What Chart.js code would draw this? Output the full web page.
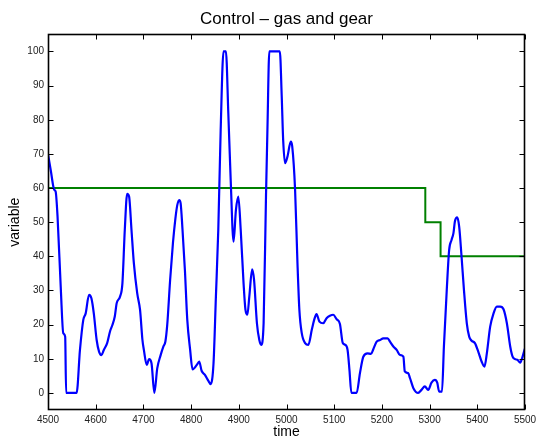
<!DOCTYPE html>
<html>
<head>
<meta charset="utf-8">
<script src="https://cdn.jsdelivr.net/npm/chart.js@4/dist/chart.umd.min.js"></script>
<style>
html,body{margin:0;padding:0;background:#fff;}
#wrap{width:536px;height:438px;}
</style>
</head>
<body>
<div id="wrap"><canvas id="c" width="536" height="438"></canvas></div>
<script>
// ---- data ----
const gasTime = [4500,4506,4513,4516,4520,4527,4532,4536,4538,4560,4567,4574,4579,4586,4591,4596,4602,4607,4612,4617,4624,4630,4635,4640,4644,4651,4656,4661,4666,4670,4675,4680,4687,4693,4698,4701,4707,4712,4717,4723,4729,4736,4742,4746,4750,4756,4762,4767,4771,4775,4778,4782,4787,4792,4798,4803,4812,4817,4822,4829,4836,4841,4847,4852,4857,4862,4868,4873,4878,4883,4889,4894,4899,4904,4910,4914,4918,4922,4928,4932,4938,4943,4947,4952,4957,4960,4964,4986,4990,4993,4997,5002,5009,5012,5018,5023,5027,5032,5039,5046,5053,5058,5063,5069,5077,5084,5091,5098,5105,5112,5118,5123,5128,5132,5136,5147,5154,5161,5170,5177,5182,5189,5196,5203,5212,5217,5224,5231,5238,5245,5248,5255,5259,5266,5276,5283,5290,5297,5304,5311,5316,5320,5326,5330,5336,5341,5346,5350,5353,5358,5362,5367,5372,5378,5383,5388,5395,5402,5409,5415,5420,5427,5434,5441,5448,5455,5462,5469,5474,5479,5484,5490,5494,5499,5500];
const gasValue = [70,65,59.5,59,51.7,30,17.5,16.5,0,0,12.6,21.4,23.3,28.7,27.7,23.3,15.5,12.1,11.1,12.6,14.6,18,19.9,22.4,26.3,28.2,32.1,47.8,58.3,57.5,47.8,38,29.2,24.3,15.5,12.6,8.2,9.9,8.7,0,7.2,11,13.6,15,20,33,44,51,55,56.5,55.6,47.8,36,21.4,12.6,6.9,8.2,9.2,6.5,5.3,3.6,2.6,8.7,28.2,47.8,77,100,100,82,62.4,44.3,53.6,57.5,47.8,32.1,24.3,22.9,28.2,36.2,33.1,20.4,15.5,14.1,20.4,57.5,77,100,100,86.8,74.1,67.3,69.2,73.6,72.2,59.5,38,24.3,17.5,14.6,14.1,18.5,21.4,23.1,20.9,20.4,21.9,22.6,22.9,21.6,20.2,14.6,14.1,12.6,6.7,0,0,5.8,10.6,11.6,11.4,12.8,15,15.5,16,16,15,13.6,12.6,11.1,10.6,6.3,5.8,4.3,1.4,0,0.9,1.9,0.9,3,3.8,3,0.4,0.4,13.6,30.2,41.9,44.8,46.8,50.2,51.4,48.7,39.9,30.2,20.4,16.5,15.3,14.6,12.1,9.2,7.7,11.6,19.4,23.3,25.3,25.3,24.5,20.4,13.6,10.6,9.9,9.7,8.9,10.2,12.6,13];
const gearTime = [4500,5291,5291,5323,5323,5500];
const gearValue = [60,60,50,50,40,40];
const xTicks = [4500,4600,4700,4800,4900,5000,5100,5200,5300,5400,5500];
const yTicks = [0,10,20,30,40,50,60,70,80,90,100];
const titleText = 'Control \u2013 gas and gear';
const xLabel = 'time';
const yLabel = 'variable';

const FONT = "'Liberation Sans', Arial, Helvetica, sans-serif";

const frameTicks = {
  id: 'frameTicks',
  afterDraw(chart) {
    const {ctx, chartArea: a, scales: {x, y}} = chart;
    ctx.save();
    ctx.strokeStyle = '#000';
    ctx.lineWidth = 1;
    ctx.beginPath();
    const L = Math.round(a.left) + 0.5, R = Math.round(a.right) - 0.5;
    const T = Math.round(a.top) + 0.5, B = Math.round(a.bottom) - 0.5;
    const tl = 5;
    xTicks.forEach(v => {
      const px = Math.round(x.getPixelForValue(v)) + 0.5;
      ctx.moveTo(px, B); ctx.lineTo(px, B - tl);
      ctx.moveTo(px, T); ctx.lineTo(px, T + tl);
    });
    yTicks.forEach(v => {
      const py = Math.round(y.getPixelForValue(v)) + 0.5;
      ctx.moveTo(L, py); ctx.lineTo(L + tl, py);
      ctx.moveTo(R, py); ctx.lineTo(R - tl, py);
    });
    ctx.stroke();
    ctx.lineWidth = 1.6;
    ctx.strokeRect(L, T, R - L, B - T);
    ctx.restore();
  }
};

new Chart(document.getElementById('c'), {
  type: 'line',
  data: {
    datasets: [
      {
        label: 'gas',
        data: gasTime.map((t, i) => ({x: t, y: gasValue[i]})),
        borderColor: '#0000ff',
        borderWidth: 2.2,
        pointRadius: 0,
        fill: false,
        cubicInterpolationMode: 'monotone'
      },
      {
        label: 'gear',
        data: gearTime.map((t, i) => ({x: t, y: gearValue[i]})),
        borderColor: '#008000',
        borderWidth: 2,
        pointRadius: 0,
        fill: false,
        tension: 0
      }
    ]
  },
  options: {
    responsive: false,
    animation: false,
    devicePixelRatio: 1,
    layout: {padding: 0},
    plugins: {
      legend: {display: false},
      tooltip: {enabled: false},
      title: {
        display: true,
        fullSize: false,
        text: titleText,
        color: '#000',
        font: {family: FONT, size: 17, weight: 'normal'},
        padding: {top: 9, bottom: 5}
      }
    },
    scales: {
      x: {
        type: 'linear',
        min: 4500,
        max: 5500,
        grid: {display: false, drawTicks: false},
        border: {display: false},
        afterBuildTicks(s) { s.ticks = xTicks.map(v => ({value: v})); },
        afterFit(s) { s.height = 28; s.paddingLeft = 0; s.paddingRight = 11; },
        ticks: {
          color: '#222',
          font: {family: FONT, size: 10},
          padding: 4,
          maxRotation: 0,
          autoSkip: false,
          callback: v => String(v)
        },
        title: {
          display: true,
          text: xLabel,
          color: '#000',
          font: {family: FONT, size: 14},
          padding: {top: 0, bottom: -3}
        }
      },
      y: {
        type: 'linear',
        min: -5,
        max: 105,
        grid: {display: false, drawTicks: false},
        border: {display: false},
        afterBuildTicks(s) { s.ticks = yTicks.map(v => ({value: v})); },
        afterFit(s) { s.width = 48; s.paddingTop = 0; s.paddingBottom = 0; },
        ticks: {
          color: '#222',
          font: {family: FONT, size: 10},
          padding: 4,
          autoSkip: false,
          callback: v => String(v)
        },
        title: {
          display: true,
          text: yLabel,
          color: '#000',
          font: {family: FONT, size: 14},
          padding: {top: 7, bottom: 0}
        }
      }
    }
  },
  plugins: [frameTicks]
});
</script>
</body>
</html>
